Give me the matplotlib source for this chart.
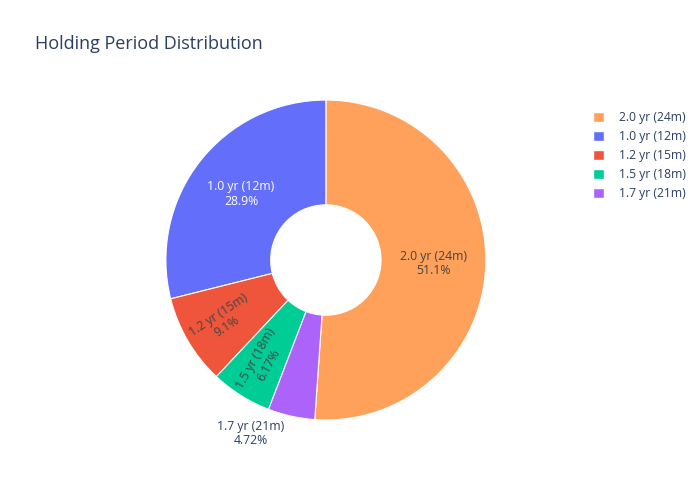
import numpy as np
import matplotlib.pyplot as plt
from matplotlib.patches import Patch

plt.rcParams['font.family'] = ['Open Sans', 'DejaVu Sans']

labels = ["2.0 yr (24m)", "1.0 yr (12m)", "1.2 yr (15m)", "1.5 yr (18m)", "1.7 yr (21m)"]
shares = [51.1, 28.9, 9.1, 6.17, 4.72]
pct_text = ["51.1%", "28.9%", "9.1%", "6.17%", "4.72%"]
colors = ["#FFA15A", "#636EFA", "#EF553B", "#00CC96", "#AB63FA"]
text_colors = ["#444444", "white", "#444444", "#444444", "#2a3f5f"]

hole = 0.345
fig = plt.figure(figsize=(7, 5), dpi=100)
ax = fig.add_axes([0.237, 0.16, 0.457, 0.64])

total = sum(shares)
start = 90 - shares[0] / total * 360
wedges, _ = ax.pie(shares, colors=colors, startangle=start, counterclock=True,
                   radius=1, wedgeprops=dict(width=1 - hole, edgecolor="white", linewidth=0.8))
ax.set_xlim(-1, 1)
ax.set_ylim(-1, 1)
ax.set_aspect("equal")
ax.axis("off")

for i, w in enumerate(wedges):
    mid = (w.theta1 + w.theta2) / 2
    rad = np.deg2rad(mid)
    txt = labels[i] + "\n" + pct_text[i]
    if i < 2:
        r = (1 + hole) / 2
        ax.text(r * np.cos(rad), r * np.sin(rad), txt, ha="center", va="center",
                fontsize=8.8, color=text_colors[i], linespacing=1.15)
    elif i < 4:
        r = 0.75
        rot = mid - 180 + 3
        ax.text(r * np.cos(rad), r * np.sin(rad), txt, ha="center", va="center",
                fontsize=8.8, color=text_colors[i], rotation=rot, rotation_mode="anchor",
                linespacing=1.15)
    else:
        r = 1.08
        ax.text(r * np.cos(rad) - 0.235, r * np.sin(rad) + 0.055, txt, ha="center", va="top",
                fontsize=8.8, color=text_colors[i], linespacing=1.15, clip_on=False)

fig.text(35 / 700, 1 - 44 / 500, "Holding Period Distribution", fontsize=13,
         color="#2a3f5f", va="center", ha="left")

handles = [Patch(facecolor=c, edgecolor="white") for c in colors]
fig.legend(handles, labels, loc="upper left", bbox_to_anchor=(582 / 700, 1 - 100 / 500),
           frameon=False, fontsize=8.7, handlelength=0.9, handleheight=0.9,
           labelspacing=0.5, handletextpad=1.25, labelcolor="#2a3f5f")

fig.savefig("out.png", dpi=100)
